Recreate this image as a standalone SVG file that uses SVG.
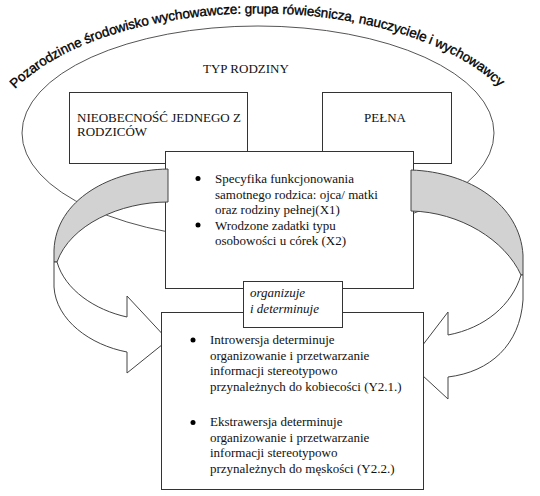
<svg xmlns="http://www.w3.org/2000/svg" width="540" height="496" viewBox="0 0 540 496">
<style>
.box{fill:#fff;stroke:#333;stroke-width:1}
.t{font-family:"Liberation Serif","Times New Roman","DejaVu Serif",serif;font-size:13px;fill:#111}
.ti{font-family:"Liberation Serif","Times New Roman","DejaVu Serif",serif;font-size:13px;font-style:italic;fill:#111}
.arc{font-family:"Liberation Sans",Arial,sans-serif;font-size:13.5px;fill:#000;stroke:#000;stroke-width:0.35}
.gray{fill:#d2d2d2;stroke:#444;stroke-width:1}
.white{fill:#fff;stroke:#444;stroke-width:1}
</style>
<defs>
<path id="tp" d="M15,89 A270,134 0 0 1 501,89" fill="none"/>
</defs>
<rect width="540" height="496" fill="#fff"/>
<g id="env">
<ellipse cx="258" cy="133" rx="236" ry="107" fill="none" stroke="#555" stroke-width="1"/>
<text class="arc"><textPath href="#tp" textLength="518" lengthAdjust="spacing">Pozarodzinne środowisko wychowawcze: grupa rówieśnicza, nauczyciele i wychowawcy</textPath></text>
<text class="t" x="203" y="72.5">TYP RODZINY</text>
</g>
<g id="n-nieobecnosc">
<rect class="box" x="69.5" y="92.5" width="178" height="71"/>
<text class="t" x="77" y="121.5">NIEOBECNOŚĆ JEDNEGO Z</text>
<text class="t" x="77" y="135.5">RODZICÓW</text>
</g>
<g id="n-pelna">
<rect class="box" x="322.5" y="92.5" width="129" height="71"/>
<text class="t" x="385" y="121.5" text-anchor="middle">PEŁNA</text>
</g>
<g id="n-x">
<rect class="box" x="165.5" y="151.5" width="248" height="137"/>
<circle cx="198" cy="178.5" r="2.5" fill="#000"/>
<circle cx="198" cy="225" r="2.5" fill="#000"/>
<text class="t" x="215" y="183">Specyfika funkcjonowania</text>
<text class="t" x="215" y="198.5">samotnego rodzica: ojca/  matki</text>
<text class="t" x="215" y="214">oraz rodziny pełnej(X1)</text>
<text class="t" x="215" y="229.5">Wrodzone zadatki typu</text>
<text class="t" x="215" y="245">osobowości u córek (X2)</text>
</g>
<g id="connectors">
<path class="gray" d="M168,169 C110,170 56,200 54,250 L54,262 L57,262 C70,225 120,202 168,202 Z"/>
<path class="white" d="M57,262 C65,290 95,310 127,317 L127,296 L168,340 L127,373 L127,352 C90,345 56,320 54,287 L54,262 Z"/>
<path class="gray" d="M411,170 C470,172 520,205 523,255 L523,275 L521,275 C505,240 460,212 411,211 Z"/>
<path class="white" d="M521,275 C512,305 485,328 448,335 L448,312 L409,363 L448,399 L448,377 C490,372 520,345 523,300 L523,275 Z"/>
</g>
<g id="n-y">
<rect class="box" x="161.5" y="312.5" width="262" height="177"/>
<circle cx="193" cy="340" r="2.5" fill="#000"/>
<circle cx="193" cy="422.5" r="2.5" fill="#000"/>
<text class="t" x="210" y="344">Introwersja determinuje</text>
<text class="t" x="210" y="359.5">organizowanie i przetwarzanie</text>
<text class="t" x="210" y="375">informacji  stereotypowo</text>
<text class="t" x="210" y="390.5">przynależnych do  kobiecości (Y2.1.)</text>
<text class="t" x="210" y="426">Ekstrawersja determinuje</text>
<text class="t" x="210" y="441.5">organizowanie i przetwarzanie</text>
<text class="t" x="210" y="457">informacji  stereotypowo</text>
<text class="t" x="210" y="472.5">przynależnych do  męskości (Y2.2.)</text>
</g>
<g id="n-label">
<rect class="box" x="243.5" y="281.5" width="99" height="46"/>
<text class="ti" x="250" y="297">organizuje</text>
<text class="ti" x="250" y="313">i determinuje</text>
</g>
</svg>
